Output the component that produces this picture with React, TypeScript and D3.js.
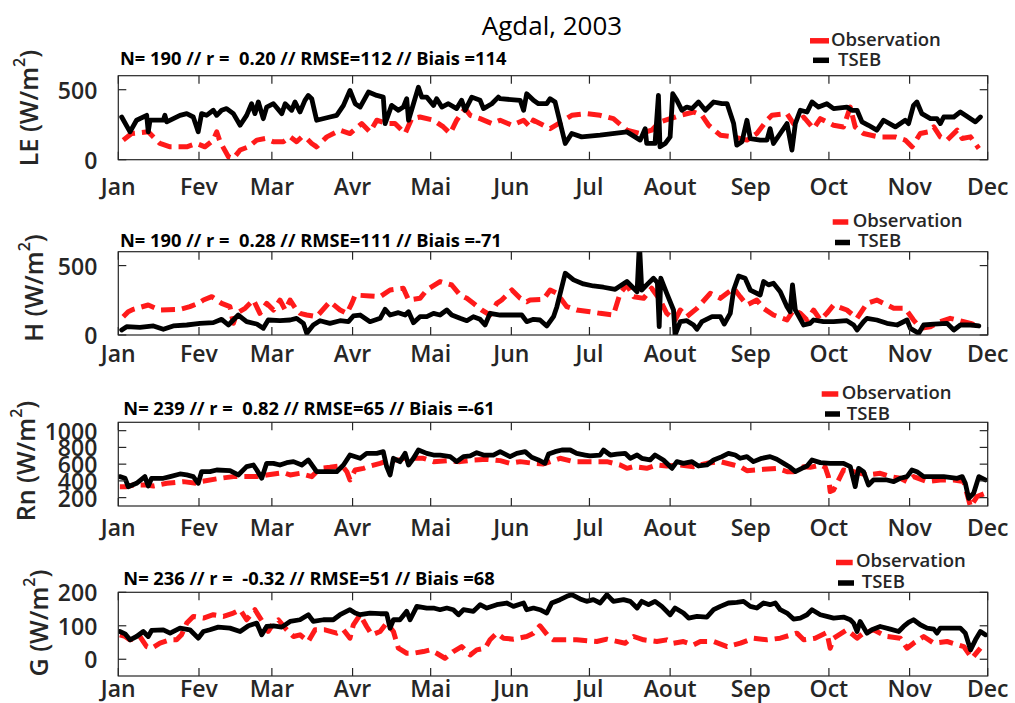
import React from 'react';
import * as d3 from 'd3';

type Pt = [number, number]; // [day of year since 1 Jan 2003, value]

const monthLabels = ['Jan', 'Fev', 'Mar', 'Avr', 'Mai', 'Jun', 'Jul', 'Aout', 'Sep', 'Oct', 'Nov', 'Dec'];
const seriesNames = ['Observation', 'TSEB'];
const titleText = 'Agdal, 2003';

const leStats = 'N= 190 // r =  0.20 // RMSE=112 // Biais =114';
const hStats = 'N= 190 // r =  0.28 // RMSE=111 // Biais =-71';
const rnStats = 'N= 239 // r =  0.82 // RMSE=65 // Biais =-61';
const gStats = 'N= 236 // r =  -0.32 // RMSE=51 // Biais =68';

const leTicks = [0, 500];
const hTicks = [0, 500];
const rnTicks = [200, 400, 600, 800, 1000];
const gTicks = [0, 100, 200];

const leTseb: Pt[] = [
  [1.3, 305], [4.5, 199], [7.0, 282], [10.9, 317], [11.5, 199], [12.2, 282], [17.3, 282], [17.9, 317], [18.6, 270],
  [23.7, 317], [26.3, 329], [28.8, 305], [30.7, 199], [32.0, 329], [33.9, 317], [36.5, 353], [37.8, 317], [39.7, 353],
  [41.6, 365], [44.2, 329], [46.8, 246], [49.3, 317], [51.2, 400], [52.5, 329], [53.8, 412], [55.7, 293], [57.0, 376],
  [59.6, 400], [62.8, 329], [64.1, 400], [66.6, 353], [67.9, 412], [69.8, 341], [71.7, 424], [73.0, 459], [74.3, 436],
  [76.2, 282], [81.3, 305], [83.9, 317], [86.5, 388], [89.0, 495], [91.0, 400], [92.9, 376], [96.1, 483], [99.3, 459],
  [101.8, 447], [102.5, 258], [105.0, 388], [107.6, 353], [109.5, 376], [110.8, 436], [111.5, 282], [113.4, 400],
  [115.3, 518], [116.6, 447], [118.5, 447], [121.1, 388], [122.3, 436], [124.3, 376], [126.8, 400], [130.0, 365],
  [131.9, 424], [133.2, 353], [135.8, 447], [139.0, 424], [140.3, 365], [143.5, 400], [146.0, 447], [146.7, 436],
  [154.4, 424], [155.7, 353], [156.9, 471], [159.5, 424], [161.4, 400], [164.6, 400], [165.9, 436], [167.8, 412],
  [171.7, 116], [174.2, 187], [178.0, 163], [185.1, 175], [195.4, 199], [200.5, 140], [202.4, 222], [203.0, 116],
  [206.2, 116], [207.5, 459], [208.1, 92], [210.1, 116], [212.0, 163], [213.0, 471], [214.6, 424], [216.5, 353],
  [218.4, 376], [220.4, 365], [222.9, 412], [225.5, 353], [228.7, 412], [231.9, 400], [233.9, 400], [236.4, 258],
  [237.6, 104], [239.6, 128], [241.5, 282], [242.8, 151], [246.6, 140], [249.2, 140], [250.4, 222], [251.7, 116],
  [254.3, 187], [256.9, 258], [258.8, 69], [260.1, 258], [262.0, 353], [264.6, 341], [266.5, 412], [269.0, 376],
  [272.2, 400], [274.8, 365], [279.9, 376], [281.8, 353], [283.8, 353], [285.7, 270], [288.2, 246], [291.4, 211],
  [294.0, 282], [298.5, 234], [302.3, 282], [303.6, 258], [305.5, 388], [306.8, 412], [308.7, 329], [312.0, 293],
  [314.5, 293], [315.8, 258], [317.1, 305], [321.0, 305], [323.5, 341], [325.4, 317], [329.3, 270], [331.2, 305],
];

const leObs: Pt[] = [
  [1.9, 140], [5.1, 187], [11.5, 199], [16.0, 116], [19.9, 92], [26.3, 92], [30.1, 116], [33.3, 92], [36.5, 140],
  [37.8, 199], [39.1, 128], [42.3, 21], [44.2, 9], [46.8, 69], [50.0, 92], [53.2, 140], [56.4, 151], [59.6, 128],
  [63.4, 128], [66.0, 163], [68.5, 128], [70.5, 163], [72.4, 151], [74.3, 116], [76.2, 92], [80.1, 163], [85.2, 211],
  [89.0, 187], [93.5, 258], [96.7, 199], [99.3, 282], [103.1, 258], [106.3, 258], [110.2, 187], [112.7, 293],
  [115.9, 305], [121.1, 282], [124.9, 234], [127.5, 187], [130.0, 282], [133.2, 365], [135.2, 317], [139.0, 293],
  [143.5, 258], [146.7, 282], [151.2, 246], [155.7, 282], [158.2, 234], [159.5, 282], [165.9, 222], [169.1, 258],
  [174.2, 317], [179.9, 329], [185.1, 317], [190.2, 293], [195.4, 211], [200.5, 187], [204.9, 211], [208.1, 270],
  [212.0, 293], [215.9, 317], [221.0, 341], [224.2, 317], [226.8, 246], [231.3, 175], [236.4, 163], [241.5, 140],
  [245.3, 187], [249.2, 282], [251.1, 317], [256.9, 329], [259.4, 258], [263.3, 305], [267.1, 222], [269.7, 293],
  [274.8, 246], [278.6, 234], [281.2, 376], [283.1, 234], [286.3, 187], [292.1, 163], [298.5, 163], [302.3, 140],
  [304.9, 92], [308.1, 187], [311.3, 199], [313.3, 234], [315.8, 163], [318.4, 140], [322.3, 211], [324.2, 151],
  [327.4, 163], [330.6, 80],
];

const hTseb: Pt[] = [
  [1.3, 36], [3.2, 60], [8.3, 55], [13.5, 65], [17.3, 41], [21.1, 65], [26.3, 72], [31.4, 84], [36.5, 89], [39.7, 113],
  [42.3, 72], [46.1, 144], [49.3, 96], [53.2, 79], [55.7, 48], [57.6, 108], [62.1, 103], [66.0, 108], [68.5, 120],
  [71.1, 84], [72.4, 12], [74.9, 72], [77.5, 103], [81.3, 84], [85.2, 103], [88.4, 96], [90.3, 137], [92.9, 144],
  [96.7, 96], [100.6, 120], [102.5, 185], [104.4, 144], [107.6, 161], [110.2, 144], [111.5, 168], [113.4, 89],
  [115.9, 132], [118.5, 132], [121.1, 156], [123.6, 144], [126.2, 180], [128.1, 144], [131.3, 120], [133.9, 103],
  [136.4, 132], [139.0, 113], [140.9, 72], [142.8, 156], [146.7, 144], [151.2, 144], [155.0, 144], [156.9, 96],
  [159.5, 113], [162.0, 108], [164.6, 65], [167.2, 132], [168.5, 204], [171.7, 445], [174.9, 397], [178.7, 368],
  [182.5, 353], [186.4, 344], [190.9, 329], [195.4, 385], [199.3, 312], [200.2, 660], [201.1, 324], [203.0, 361],
  [205.6, 409], [207.1, 377], [207.8, 60], [208.4, 409], [210.7, 300], [213.3, 180], [213.9, 0], [215.9, 96],
  [218.4, 103], [221.0, 72], [222.3, 41], [224.2, 96], [228.1, 132], [231.3, 132], [232.8, 79], [235.1, 156],
  [236.4, 324], [238.3, 425], [240.8, 409], [242.8, 324], [246.6, 288], [247.9, 385], [249.8, 361], [251.7, 373],
  [254.3, 312], [256.9, 204], [258.1, 168], [259.0, 361], [260.1, 180], [263.3, 72], [265.8, 84], [267.1, 108],
  [270.9, 96], [274.8, 96], [279.9, 103], [282.5, 72], [283.8, 36], [286.3, 96], [287.6, 120], [291.4, 108],
  [295.3, 84], [299.2, 72], [303.0, 108], [304.3, 48], [307.5, 12], [309.4, 72], [313.3, 79], [318.4, 84], [321.0, 36],
  [323.5, 72], [327.4, 72], [330.6, 65],
];

const hObs: Pt[] = [
  [1.9, 132], [3.8, 168], [5.8, 185], [11.5, 216], [16.0, 180], [23.7, 185], [27.5, 204], [30.7, 228], [32.7, 252],
  [35.9, 276], [39.7, 228], [42.9, 204], [44.2, 84], [45.5, 156], [48.7, 192], [51.9, 252], [54.4, 156], [57.0, 228],
  [59.6, 180], [62.1, 252], [64.1, 180], [66.0, 252], [68.5, 180], [69.8, 156], [72.4, 144], [76.2, 132], [81.3, 240],
  [85.2, 180], [87.8, 156], [89.7, 228], [91.0, 288], [96.7, 281], [100.6, 276], [104.4, 324], [109.5, 337],
  [111.5, 252], [115.9, 264], [118.5, 324], [123.6, 385], [128.1, 360], [131.3, 288], [133.9, 264], [136.4, 228],
  [139.6, 180], [142.8, 144], [145.4, 228], [147.3, 252], [151.2, 324], [154.4, 264], [156.9, 240], [158.2, 252],
  [163.3, 257], [165.9, 324], [168.5, 300], [172.3, 204], [176.1, 180], [181.2, 168], [185.1, 156], [190.2, 144],
  [192.8, 300], [195.4, 360], [198.0, 276], [201.8, 264], [204.9, 337], [208.1, 252], [210.7, 156], [213.9, 108],
  [215.9, 180], [218.4, 132], [222.3, 192], [227.4, 300], [231.3, 264], [236.4, 337], [238.9, 276], [241.5, 216],
  [245.3, 252], [247.9, 192], [251.7, 144], [256.9, 108], [259.4, 180], [262.0, 156], [264.6, 108], [267.1, 180],
  [269.7, 108], [272.2, 156], [274.8, 216], [279.9, 180], [283.8, 120], [287.6, 228], [291.4, 252], [297.9, 192],
  [302.3, 192], [305.5, 108], [308.1, 48], [312.0, 60], [315.8, 96], [319.6, 120], [324.8, 96], [327.4, 84], [330.6, 60],
];

const rnTseb: Pt[] = [
  [0.6, 451], [2.6, 431], [3.8, 331], [7.0, 371], [10.2, 451], [11.5, 339], [12.8, 431], [17.3, 431], [19.9, 451],
  [23.7, 483], [26.3, 471], [28.8, 451], [30.7, 371], [32.0, 510], [35.2, 510], [37.8, 530], [42.9, 522], [46.1, 471],
  [49.3, 570], [51.9, 590], [53.2, 530], [55.1, 431], [57.0, 610], [59.6, 610], [62.1, 590], [64.7, 618], [67.3, 630],
  [70.5, 590], [73.0, 650], [76.2, 510], [80.1, 510], [83.9, 510], [86.5, 590], [89.0, 709], [92.9, 670], [95.4, 729],
  [99.3, 729], [101.8, 749], [103.1, 570], [104.4, 471], [105.7, 670], [108.2, 630], [110.2, 729], [111.5, 590],
  [113.4, 670], [115.3, 769], [118.5, 729], [121.1, 709], [123.6, 709], [127.5, 690], [130.0, 630], [132.6, 690],
  [135.2, 698], [137.7, 737], [140.3, 709], [144.1, 709], [146.7, 749], [150.5, 690], [153.1, 729], [156.3, 749],
  [158.8, 682], [161.4, 650], [163.9, 610], [165.3, 721], [167.8, 749], [170.4, 769], [173.6, 769], [176.1, 729],
  [179.3, 709], [181.2, 698], [185.1, 709], [186.4, 769], [189.0, 709], [191.5, 721], [194.7, 729], [196.7, 670],
  [199.3, 709], [201.1, 670], [204.3, 650], [206.2, 709], [209.4, 650], [212.7, 550], [214.6, 630], [217.1, 610],
  [220.4, 630], [222.9, 578], [226.1, 590], [228.7, 650], [231.9, 690], [234.4, 729], [237.0, 709], [238.9, 670],
  [241.5, 690], [244.0, 630], [247.2, 670], [250.4, 690], [253.0, 658], [255.6, 610], [258.1, 562], [260.1, 510],
  [262.6, 550], [264.6, 578], [266.5, 650], [269.7, 618], [273.5, 610], [278.6, 610], [281.2, 570], [283.1, 331],
  [284.4, 550], [286.3, 510], [288.2, 351], [290.1, 411], [292.7, 411], [295.3, 411], [297.9, 391], [300.4, 431],
  [303.0, 451], [304.9, 530], [306.8, 510], [309.4, 451], [313.3, 451], [317.1, 451], [322.3, 431], [324.2, 451],
  [325.4, 371], [326.7, 192], [328.6, 252], [330.6, 451], [333.1, 411],
];

const rnObs: Pt[] = [
  [0.6, 331], [3.2, 331], [5.8, 351], [10.9, 351], [13.5, 339], [18.6, 371], [25.0, 391], [30.1, 371], [31.4, 391],
  [39.1, 431], [44.2, 451], [48.0, 451], [53.2, 451], [57.0, 471], [63.4, 499], [66.0, 471], [69.8, 491], [74.3, 451],
  [77.5, 550], [81.3, 562], [85.2, 578], [86.5, 562], [87.8, 510], [89.0, 411], [91.0, 530], [94.2, 550], [96.7, 578],
  [100.6, 610], [104.4, 650], [108.2, 650], [110.8, 682], [114.0, 670], [117.2, 670], [121.1, 630], [126.2, 642],
  [131.3, 630], [136.4, 650], [141.6, 658], [146.7, 642], [150.5, 610], [154.4, 630], [159.5, 610], [163.3, 602],
  [169.7, 670], [174.9, 630], [181.2, 630], [187.7, 630], [192.8, 590], [195.4, 550], [198.0, 570], [203.0, 550],
  [206.9, 590], [210.7, 578], [215.9, 590], [221.0, 570], [226.1, 610], [231.3, 630], [236.4, 590], [238.9, 570],
  [241.5, 522], [247.9, 538], [253.0, 550], [256.9, 510], [259.4, 510], [263.3, 570], [265.8, 562], [269.7, 590],
  [271.6, 562], [272.8, 451], [273.5, 272], [274.8, 292], [278.6, 530], [282.5, 510], [287.6, 471], [292.7, 491],
  [296.6, 451], [300.4, 431], [303.0, 391], [305.5, 451], [310.7, 391], [315.8, 411], [321.0, 411], [324.8, 391],
  [327.4, 93], [329.9, 212], [333.1, 252],
];

const gTseb: Pt[] = [
  [0.6, 83], [2.6, 76], [4.5, 58], [7.0, 68], [9.6, 83], [11.5, 68], [12.8, 86], [17.3, 88], [19.9, 78], [23.7, 93],
  [27.5, 88], [30.7, 63], [32.7, 83], [35.2, 88], [38.4, 96], [42.9, 93], [46.8, 83], [50.0, 100], [53.2, 108],
  [55.1, 73], [57.0, 98], [59.6, 100], [62.8, 96], [66.0, 113], [69.8, 118], [73.0, 133], [74.9, 113], [78.8, 118],
  [82.6, 118], [85.2, 133], [89.0, 148], [91.0, 138], [92.9, 133], [96.7, 138], [100.6, 136], [103.1, 136], [104.4, 93],
  [105.7, 118], [108.2, 118], [110.8, 143], [112.1, 118], [114.7, 158], [118.5, 153], [121.1, 153], [123.6, 148],
  [126.2, 153], [128.7, 148], [130.7, 133], [132.6, 148], [136.4, 143], [139.0, 163], [141.6, 153], [145.4, 163],
  [149.2, 168], [151.8, 158], [155.7, 168], [156.9, 148], [159.5, 153], [162.0, 148], [164.6, 138], [166.5, 168],
  [169.7, 178], [172.3, 188], [174.2, 193], [177.4, 180], [179.9, 173], [182.5, 178], [185.1, 168], [187.7, 193],
  [190.2, 173], [194.1, 178], [196.7, 173], [199.3, 153], [201.1, 173], [203.7, 163], [206.2, 173], [208.8, 158],
  [212.0, 133], [213.9, 153], [217.1, 138], [219.1, 123], [222.3, 128], [226.1, 126], [228.7, 148], [231.3, 158],
  [234.4, 168], [237.6, 170], [240.2, 173], [242.8, 158], [245.3, 153], [247.9, 168], [250.4, 163], [252.4, 168],
  [254.3, 148], [256.9, 138], [259.4, 120], [262.0, 123], [264.6, 133], [266.5, 148], [269.7, 133], [272.2, 128],
  [274.8, 123], [278.6, 126], [281.2, 118], [282.5, 108], [283.8, 83], [285.0, 113], [287.6, 78], [289.5, 88],
  [292.7, 98], [296.6, 90], [299.8, 83], [301.7, 98], [303.6, 110], [305.5, 118], [308.1, 103], [310.7, 93],
  [313.3, 90], [314.5, 78], [315.8, 93], [318.4, 93], [323.5, 93], [325.4, 78], [327.4, 28], [329.3, 58], [331.2, 83],
  [333.1, 73],
];

const gObs: Pt[] = [
  [0.6, 73], [2.6, 68], [4.5, 58], [8.3, 68], [10.9, 38], [12.8, 33], [16.0, 48], [19.9, 58], [22.4, 58], [24.3, 73],
  [26.3, 108], [28.8, 128], [32.7, 123], [36.5, 133], [40.4, 128], [44.2, 138], [46.8, 148], [49.3, 118], [52.5, 148],
  [55.7, 108], [57.6, 83], [59.6, 108], [61.5, 118], [64.7, 88], [67.3, 68], [69.8, 73], [73.0, 53], [75.6, 88],
  [79.4, 88], [83.9, 78], [86.5, 88], [89.0, 63], [90.3, 103], [92.9, 133], [95.4, 98], [97.4, 73], [100.6, 83],
  [103.1, 108], [105.7, 83], [107.6, 33], [110.8, 18], [113.4, 18], [117.2, 23], [119.8, 28], [122.3, 18], [125.5, 3],
  [128.7, 23], [131.9, 38], [135.2, 13], [137.7, 28], [140.9, 33], [142.8, 58], [145.4, 78], [148.0, 63], [151.8, 60],
  [156.9, 68], [159.5, 78], [162.0, 100], [165.3, 68], [167.2, 58], [172.3, 58], [176.1, 58], [183.8, 53], [187.7, 60],
  [194.7, 48], [198.0, 68], [201.8, 58], [206.9, 53], [210.7, 58], [213.3, 48], [217.1, 53], [221.0, 43], [223.6, 53],
  [228.7, 53], [233.9, 38], [239.0, 48], [244.0, 63], [249.2, 58], [254.3, 63], [260.7, 78], [263.3, 58], [267.7, 63],
  [272.2, 80], [273.5, 33], [274.8, 63], [279.9, 88], [283.8, 63], [286.3, 78], [290.1, 88], [295.3, 68], [300.4, 63],
  [303.0, 33], [305.5, 48], [309.4, 68], [313.3, 48], [318.4, 53], [324.8, 38], [328.0, 3], [331.2, 33],
];

// ---------------- layout ----------------
const W = 1015;
const H = 703;
const X0 = 118.3;
const X1 = 987.7;
const FONT = "'Open Sans', 'Noto Sans', sans-serif";
const TXT = '#262626';
const RED = '#ff1a1a';
const DAY = 86400000;
const t0 = Date.UTC(2003, 0, 1);
const t1 = Date.UTC(2003, 11, 1);
const toDate = (d: number) => new Date(t0 + d * DAY);

const x = d3.scaleUtc().domain([new Date(t0), new Date(t1)]).range([X0, X1]);
const monthTicks = d3.utcMonth.range(new Date(t0), new Date(t1 + 1));

interface Panel {
  key: string;
  ylab: string;
  obs: Pt[];
  tseb: Pt[];
  stats: string;
  ticks: number[];
  domain: [number, number];
  top: number;
  bottom: number;
  statY: number;
  statX: number;
  xLabY: number;
  ylabX: number;
  ylabY: number;
  leg: { ox: number; oy: number; tx: number; ty: number; r0: number; r1: number; ry: number; b0: number; b1: number; by: number };
}

const panels: Panel[] = [
  {
    key: 'le', ylab: 'LE', obs: leObs, tseb: leTseb, stats: leStats, ticks: leTicks, domain: [0, 600],
    top: 75.7, bottom: 159.7, statY: 65, statX: 120, xLabY: 195, ylabX: 28, ylabY: 108,
    leg: { ox: 831, oy: 45.7, tx: 838, ty: 65.7, r0: 810, r1: 829, ry: 40.8, b0: 813, b1: 829, by: 60.3 },
  },
  {
    key: 'h', ylab: 'H', obs: hObs, tseb: hTseb, stats: hStats, ticks: hTicks, domain: [0, 600],
    top: 251.7, bottom: 335, statY: 246.7, statX: 120, xLabY: 362, ylabX: 33, ylabY: 288,
    leg: { ox: 852.7, oy: 226.7, tx: 858, ty: 246.7, r0: 832.7, r1: 848.3, ry: 222, b0: 835, b1: 850, by: 242.5 },
  },
  {
    key: 'rn', ylab: 'Rn', obs: rnObs, tseb: rnTseb, stats: rnStats, ticks: rnTicks, domain: [100, 1100],
    top: 422.3, bottom: 506, statY: 415, statX: 123.3, xLabY: 536, ylabX: 25, ylabY: 461,
    leg: { ox: 841.7, oy: 399.3, tx: 846.7, ty: 420, r0: 821.7, r1: 838.3, ry: 394, b0: 825, b1: 840, by: 414 },
  },
  {
    key: 'g', ylab: 'G', obs: gObs, tseb: gTseb, stats: gStats, ticks: gTicks, domain: [-50, 200],
    top: 592.3, bottom: 676, statY: 585, statX: 123.3, xLabY: 697, ylabX: 38, ylabY: 623,
    leg: { ox: 856, oy: 567.3, tx: 861.7, ty: 588.3, r0: 836, r1: 852.7, ry: 562.5, b0: 838, b1: 854, by: 583 },
  },
];

function PanelView({ p }: { p: Panel }) {
  const y = d3.scaleLinear().domain(p.domain).range([p.bottom, p.top]);
  const line = d3
    .line<Pt>()
    .x((d) => x(toDate(d[0])))
    .y((d) => y(d[1]));
  const clipId = `clip-${p.key}`;
  const tickLen = 8;
  return (
    <g>
      <defs>
        <clipPath id={clipId}>
          <rect x={X0} y={p.top} width={X1 - X0} height={p.bottom - p.top} />
        </clipPath>
      </defs>
      {/* stats */}
      <text x={p.statX} y={p.statY} fontFamily={FONT} fontWeight={700} fontSize={18.3} fill="#000" style={{ whiteSpace: 'pre' }}>
        {p.stats}
      </text>
      {/* y label */}
      <text
        transform={`translate(${p.ylabX},${p.ylabY}) rotate(-90)`}
        textAnchor="middle"
        dominantBaseline="central"
        fontFamily={FONT}
        fontWeight={600}
        fontSize={25}
        fill={TXT}
      >
        <tspan>{`${p.ylab} (W/m`}</tspan>
        <tspan fontSize={16} dy={-9}>2</tspan>
        <tspan dy={9}>)</tspan>
      </text>
      {/* series */}
      <g clipPath={`url(#${clipId})`}>
        <path d={line(p.obs) || ''} fill="none" stroke={RED} strokeWidth={5} strokeDasharray="14 7" strokeLinejoin="round" />
        <path d={line(p.tseb) || ''} fill="none" stroke="#000" strokeWidth={4.8} strokeLinejoin="round" strokeLinecap="round" />
      </g>
      {/* box */}
      <rect x={X0} y={p.top} width={X1 - X0} height={p.bottom - p.top} fill="none" stroke={TXT} strokeWidth={1.2} />
      {/* x ticks */}
      {monthTicks.map((m, i) => {
        const xx = x(m);
        return (
          <g key={`xt${i}`}>
            <line x1={xx} x2={xx} y1={p.bottom} y2={p.bottom - tickLen} stroke={TXT} strokeWidth={1.2} />
            <line x1={xx} x2={xx} y1={p.top} y2={p.top + tickLen} stroke={TXT} strokeWidth={1.2} />
            <text x={xx} y={p.xLabY} textAnchor="middle" fontFamily={FONT} fontWeight={600} fontSize={23} fill={TXT}>
              {monthLabels[i]}
            </text>
          </g>
        );
      })}
      {/* y ticks */}
      {p.ticks.map((t) => {
        const yy = y(t);
        return (
          <g key={`yt${t}`}>
            <line x1={X0} x2={X0 + tickLen} y1={yy} y2={yy} stroke={TXT} strokeWidth={1.2} />
            <line x1={X1} x2={X1 - tickLen} y1={yy} y2={yy} stroke={TXT} strokeWidth={1.2} />
            <text x={X0 - 21} y={yy} textAnchor="end" dominantBaseline="central" fontFamily={FONT} fontWeight={600} fontSize={23} fill={TXT}>
              {t}
            </text>
          </g>
        );
      })}
      {/* legend */}
      <line x1={p.leg.r0} x2={p.leg.r1} y1={p.leg.ry} y2={p.leg.ry} stroke={RED} strokeWidth={5.5} />
      <text x={p.leg.ox} y={p.leg.oy} fontFamily={FONT} fontWeight={600} fontSize={18.5} fill={TXT}>
        {seriesNames[0]}
      </text>
      <line x1={p.leg.b0} x2={p.leg.b1} y1={p.leg.by} y2={p.leg.by} stroke="#000" strokeWidth={5.5} />
      <text x={p.leg.tx} y={p.leg.ty} fontFamily={FONT} fontWeight={600} fontSize={18.5} fill={TXT}>
        {seriesNames[1]}
      </text>
    </g>
  );
}

export default function App() {
  return (
    <div style={{ position: 'absolute', left: 0, top: 0, width: W, height: H, background: '#fff' }}>
      <svg width={W} height={H} viewBox={`0 0 ${W} ${H}`} style={{ display: 'block' }}>
        <rect width={W} height={H} fill="#fff" />
        <text x={552} y={35} textAnchor="middle" fontFamily={FONT} fontWeight={500} fontSize={26} fill="#000">
          {titleText}
        </text>
        {panels.map((p) => (
          <PanelView key={p.key} p={p} />
        ))}
      </svg>
    </div>
  );
}
